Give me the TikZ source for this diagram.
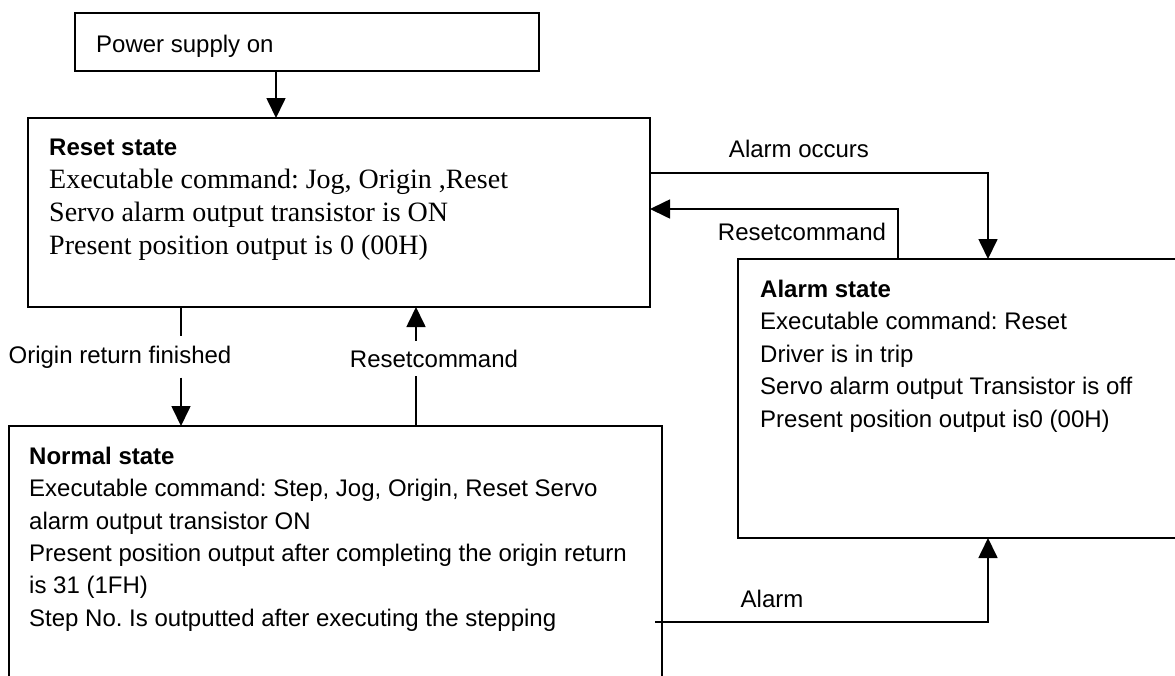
\documentclass[tikz,border=0pt]{standalone}
\usepackage{fontspec}
\setmainfont{Liberation Serif}
\newfontfamily\arial{Liberation Sans}
\usetikzlibrary{arrows.meta,calc}
\frenchspacing
\begin{document}
\begin{tikzpicture}[x=1pt,y=-1pt,
  box/.style={draw,line width=1.7pt,inner sep=0pt,outer sep=0pt,anchor=north west},
  lbl/.style={inner sep=0pt,font=\arial\fontsize{24}{32}\selectfont},
  conn/.style={line width=1.7pt},
  arr/.style={line width=1.7pt,-{Triangle[length=20pt,width=19pt]}}]
\useasboundingbox (0,0) rectangle (1175,675);
\clip (0,0) rectangle (1175,675);
% boxes
\node[box,minimum width=464pt,minimum height=58pt] (power) at (75,13) {};
\node[box,minimum width=622pt,minimum height=189pt] (reset) at (28,118) {};
\node[box,minimum width=470pt,minimum height=279pt] (alarm) at (738,259) {};
\node[box,minimum width=653pt,minimum height=290pt] (normal) at (9,426) {};
% box texts
\node[lbl,anchor=base west] (powertxt) at (96,52) {Power supply on};
\node[inner sep=0pt,anchor=north west,align=left,font=\fontsize{28}{33}\selectfont] (resettxt) at (49,135)
  {\rule{0pt}{20pt}{\arial\bfseries\fontsize{24}{33}\selectfont Reset state}\\
   Executable command: Jog, Origin ,Reset\\
   Servo alarm output transistor is ON\\
   Present position output is 0 (00H)};
\node[inner sep=0pt,anchor=north west,align=left,font=\arial\fontsize{24}{32.5}\selectfont] (alarmtxt) at (760,277)
  {\rule{0pt}{20pt}{\bfseries Alarm state}\\
   Executable command: Reset\\
   Driver is in trip\\
   Servo alarm output Transistor is off\\
   Present position output is0 (00H)};
\node[inner sep=0pt,anchor=north west,align=left,font=\arial\fontsize{24}{32.4}\selectfont] (normaltxt) at (29,444)
  {\rule{0pt}{20pt}{\bfseries Normal state}\\
   Executable command: Step, Jog, Origin, Reset Servo\\
   alarm output transistor ON\\
   Present position output after completing the origin return\\
   is 31 (1FH)\\
   Step No. Is outputted after executing the stepping};
% connector labels
\node[lbl] (aocc) at (799,149) {Alarm occurs};
\node[lbl] (rcr) at (802,232) {Resetcommand};
\node[lbl,minimum height=41pt] (orf) at (120,357) {Origin return finished};
\node[lbl,minimum height=35pt] (rcm) at (434,358.5) {Resetcommand};
\node[lbl] (alm) at (772,599) {Alarm};
% helper coordinates
\coordinate (p1) at (276,0);
\coordinate (ao) at (988,173);
\coordinate (rc) at (898,209);
\coordinate (oc) at (181,0);
\coordinate (mc) at (416,0);
\coordinate (ab) at (988,622);
% connectors
\draw[arr] (power.south -| p1) -- (reset.north -| p1);
\draw[arr] (reset.east |- ao) -| (alarm.north -| ao);
\draw[arr] (alarm.north -| rc) |- (reset.east |- rc);
\draw[conn] (reset.south -| oc) -- (oc |- orf.north);
\draw[arr] (oc |- orf.south) -- (normal.north -| oc);
\draw[conn] (normal.north -| mc) -- (mc |- rcm.south);
\draw[arr] (mc |- rcm.north) -- (reset.south -| mc);
\draw[arr] ([xshift=-7pt]normal.east |- ab) -| (alarm.south -| ab);
\end{tikzpicture}
\end{document}
